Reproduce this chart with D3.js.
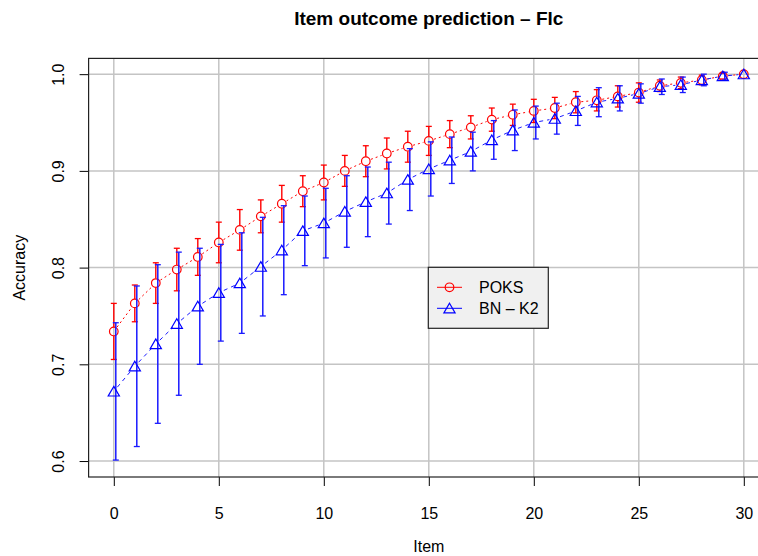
<!DOCTYPE html>
<html>
<head>
<meta charset="utf-8">
<script src="https://cdn.jsdelivr.net/npm/d3@7"></script>
<style>
  body { margin: 0; background: #fff; }
  svg { display: block; font-family: "Liberation Sans", Arial, sans-serif; }
</style>
</head>
<body>
<div id="chart"></div>
<script>
// items on the x axis
var items = [0,1,2,3,4,5,6,7,8,9,10,11,12,13,14,15,16,17,18,19,20,21,22,23,24,25,26,27,28,29,30];

// POKS accuracy and error half-width
var poksMean = [0.734,0.763,0.784,0.798,0.811,0.826,0.839,0.853,0.866,0.879,0.888,0.900,0.910,0.918,0.925,0.931,
                0.938,0.945,0.953,0.958,0.962,0.965,0.971,0.973,0.977,0.981,0.988,0.991,0.994,0.998,1.000];
var poksErr  = [0.029,0.019,0.021,0.022,0.019,0.021,0.021,0.017,0.019,0.016,0.018,0.016,0.016,0.016,0.016,0.015,
                0.014,0.012,0.012,0.011,0.012,0.011,0.011,0.011,0.011,0.010,0.006,0.006,0.005,0.003,0.000];

// BN - K2 accuracy and error half-width
var bnMean = [0.672,0.698,0.721,0.742,0.760,0.774,0.784,0.801,0.818,0.838,0.846,0.858,0.868,0.877,0.891,0.902,
              0.911,0.920,0.932,0.942,0.950,0.954,0.962,0.971,0.975,0.980,0.987,0.989,0.994,0.998,1.000];
var bnErr  = [0.071,0.083,0.082,0.074,0.060,0.050,0.052,0.051,0.046,0.036,0.036,0.037,0.036,0.032,0.032,0.028,
              0.024,0.020,0.020,0.021,0.017,0.016,0.015,0.015,0.013,0.010,0.008,0.008,0.006,0.004,0.000];

var xTicks = [0,5,10,15,20,25,30];
var yTicks = [0.6,0.7,0.8,0.9,1.0];
var yTickLabels = ["0.6","0.7","0.8","0.9","1.0"];

var width = 758, height = 556;
var box = {left: 88.6, right: 769, top: 58.4, bottom: 477};

var svg = d3.select("#chart").append("svg")
    .attr("width", width)
    .attr("height", height);

var x = d3.scaleLinear().domain([-1.2, 31.2]).range([box.left, box.right]);
var y = d3.scaleLinear().domain([0.5835, 1.0163]).range([box.bottom, box.top]);

// grid
svg.append("g").selectAll("line").data(xTicks).enter().append("line")
    .attr("x1", function(d){ return x(d); }).attr("x2", function(d){ return x(d); })
    .attr("y1", box.top).attr("y2", box.bottom)
    .attr("stroke", "#c4c4c4").attr("stroke-width", 1.5);
svg.append("g").selectAll("line").data(yTicks).enter().append("line")
    .attr("x1", box.left).attr("x2", box.right)
    .attr("y1", function(d){ return y(d); }).attr("y2", function(d){ return y(d); })
    .attr("stroke", "#c4c4c4").attr("stroke-width", 1.5);

// axes
var xAxis = d3.axisBottom(x).tickValues(xTicks).tickSize(9).tickPadding(22).tickFormat(d3.format("d"));
var gx = svg.append("g").attr("transform", "translate(0," + box.bottom + ")").call(xAxis);
gx.select(".domain").remove();
gx.selectAll("line").attr("stroke", "#000");
gx.selectAll("text").attr("font-size", "16px").attr("fill", "#000")
    .attr("font-family", "Liberation Sans, Arial, sans-serif");

var yAxis = d3.axisLeft(y).tickValues(yTicks).tickSize(9).tickFormat(function(d, i){ return yTickLabels[i]; });
var gy = svg.append("g").attr("transform", "translate(" + box.left + ",0)").call(yAxis);
gy.select(".domain").remove();
gy.selectAll("line").attr("stroke", "#000");
gy.selectAll("text")
    .attr("font-size", "16px").attr("fill", "#000")
    .attr("font-family", "Liberation Sans, Arial, sans-serif")
    .attr("x", null).attr("dy", null)
    .attr("text-anchor", "middle")
    .attr("transform", "translate(" + (64 - box.left) + ",0) rotate(-90)");

// plot box
svg.append("rect")
    .attr("x", box.left).attr("y", box.top)
    .attr("width", box.right - box.left).attr("height", box.bottom - box.top)
    .attr("fill", "none").attr("stroke", "#222").attr("stroke-width", 1.2);

function drawSeries(mean, err, color, dash, barOffset, barWidth, gapR) {
    var g = svg.append("g");
    var pts = items.map(function(d, i){ return {x: d, y: mean[i], e: err[i]}; });

    // connecting segments with a gap around the points (type = "b")
    var gap = 5.5;
    for (var i = 0; i < pts.length - 1; i++) {
        var x0 = x(pts[i].x), y0 = y(pts[i].y), x1 = x(pts[i+1].x), y1 = y(pts[i+1].y);
        var len = Math.sqrt((x1-x0)*(x1-x0) + (y1-y0)*(y1-y0));
        if (len <= 2 * gap) continue;
        var ux = (x1-x0)/len, uy = (y1-y0)/len;
        g.append("line")
            .attr("x1", x0 + ux*gap).attr("y1", y0 + uy*gap)
            .attr("x2", x1 - ux*gap).attr("y2", y1 - uy*gap)
            .attr("stroke", color).attr("stroke-width", 1)
            .attr("stroke-dasharray", dash);
    }

    // error bars
    pts.forEach(function(p){
        if (p.e <= 0) return;
        var bx = x(p.x) + barOffset;
        var top = y(p.y + p.e), bot = y(p.y - p.e), c = y(p.y);
        if (gapR > 0) {
            if (c - gapR > top) g.append("line").attr("x1", bx).attr("x2", bx).attr("y1", top).attr("y2", c - gapR)
                .attr("stroke", color).attr("stroke-width", barWidth);
            if (c + gapR < bot) g.append("line").attr("x1", bx).attr("x2", bx).attr("y1", c + gapR).attr("y2", bot)
                .attr("stroke", color).attr("stroke-width", barWidth);
        } else {
            g.append("line").attr("x1", bx).attr("x2", bx).attr("y1", top).attr("y2", bot)
                .attr("stroke", color).attr("stroke-width", barWidth);
        }
        [top, bot].forEach(function(yy){
            g.append("line").attr("x1", bx - 3).attr("x2", bx + 3).attr("y1", yy).attr("y2", yy)
                .attr("stroke", color).attr("stroke-width", 1.3);
        });
    });
    return {g: g, pts: pts};
}

var red = drawSeries(poksMean, poksErr, "#ff0000", "2,3", 0, 1.4, 4.5);
red.g.selectAll("circle").data(red.pts).enter().append("circle")
    .attr("cx", function(d){ return x(d.x); })
    .attr("cy", function(d){ return y(d.y); })
    .attr("r", 4.3)
    .attr("fill", "none").attr("stroke", "#ff0000").attr("stroke-width", 1.2);

function triPath(cx, cy) {
    return "M" + cx + "," + (cy - 5) + "L" + (cx + 5.6) + "," + (cy + 4.6) + "L" + (cx - 5.6) + "," + (cy + 4.6) + "Z";
}

var blue = drawSeries(bnMean, bnErr, "#1a1aff", "4,4", 2, 1.5, 0);
blue.g.selectAll("path.tri").data(blue.pts).enter().append("path")
    .attr("class", "tri")
    .attr("d", function(d){ return triPath(x(d.x), y(d.y)); })
    .attr("fill", "none").attr("stroke", "#0000ff").attr("stroke-width", 1.2);

// titles
svg.append("text")
    .attr("x", (box.left + box.right) / 2).attr("y", 25)
    .attr("text-anchor", "middle").attr("font-size", "19px").attr("font-weight", "bold")
    .text("Item outcome prediction \u2013 Flc");
svg.append("text")
    .attr("x", (box.left + box.right) / 2).attr("y", 552)
    .attr("text-anchor", "middle").attr("font-size", "16px")
    .text("Item");
svg.append("text")
    .attr("transform", "translate(25," + ((box.top + box.bottom) / 2) + ") rotate(-90)")
    .attr("text-anchor", "middle").attr("font-size", "16px")
    .text("Accuracy");

// legend
var legendNames = ["POKS", "BN \u2013 K2"];
var legendColors = ["#ff0000", "#0000ff"];
var lg = svg.append("g");
lg.append("rect")
    .attr("x", 428.3).attr("y", 267.3).attr("width", 120).attr("height", 61)
    .attr("fill", "#f0f0f0").attr("stroke", "#222").attr("stroke-width", 1.2);
legendNames.forEach(function(name, i){
    var ly = 287.3 + i * 21;
    lg.append("line").attr("x1", 437).attr("x2", 462).attr("y1", ly).attr("y2", ly)
        .attr("stroke", legendColors[i]).attr("stroke-width", 1);
    if (i === 0) {
        lg.append("circle").attr("cx", 449.5).attr("cy", ly).attr("r", 4.3)
            .attr("fill", "none").attr("stroke", legendColors[i]).attr("stroke-width", 1.2);
    } else {
        lg.append("path").attr("d", triPath(449.5, ly))
            .attr("fill", "none").attr("stroke", legendColors[i]).attr("stroke-width", 1.2);
    }
    lg.append("text").attr("x", 479).attr("y", ly + 6).attr("font-size", "16px").text(name);
});
</script>
</body>
</html>
